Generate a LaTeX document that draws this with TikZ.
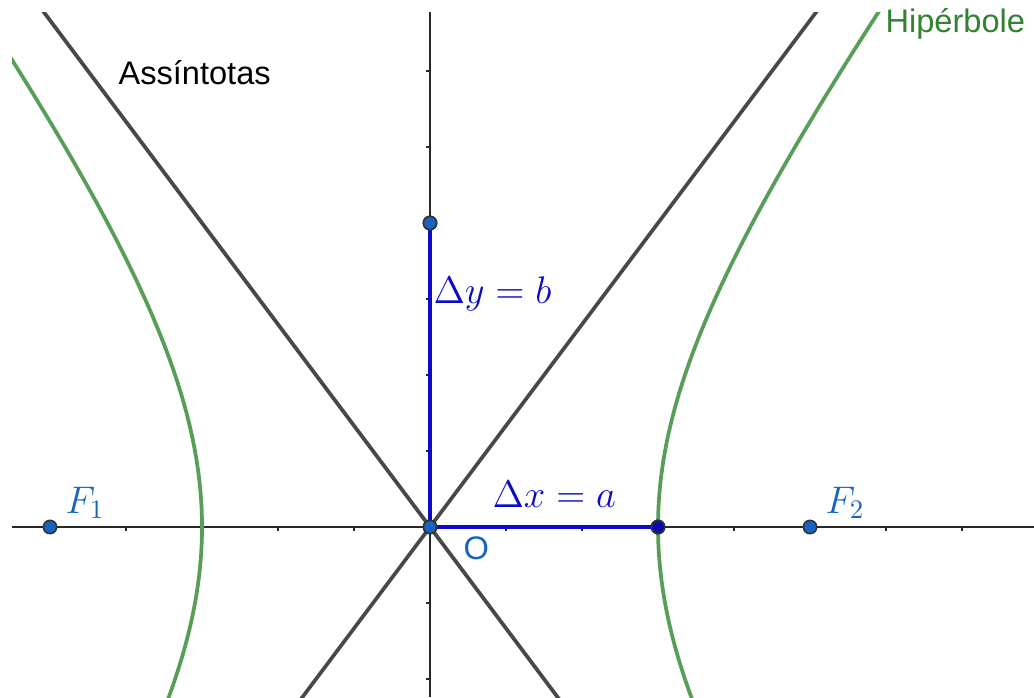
\documentclass[tikz,border=0pt]{standalone}
\usepackage{fontspec}
\setsansfont{Liberation Sans}
\definecolor{ptblue}{RGB}{21,101,192}
\definecolor{segblue}{RGB}{12,12,200}
\definecolor{vtxblue}{RGB}{10,10,170}
\definecolor{hypgreen}{RGB}{88,158,88}
\definecolor{labgreen}{RGB}{50,130,50}
\definecolor{asymgray}{RGB}{72,72,72}
\definecolor{axisgray}{RGB}{40,40,40}
\begin{document}
\begin{tikzpicture}[x=1cm, y=1cm,
    axisline/.style={axisgray, line width=0.9pt},
    asym/.style={asymgray, line width=1.4pt},
    curve/.style={hypgreen, line width=1.4pt},
    segment/.style={segblue, line width=1.4pt},
    pt/.style={circle, draw=black!80, fill=ptblue, line width=0.6pt, inner sep=0pt, minimum size=0.175cm},
    mathlabel/.style={inner sep=0pt, anchor=base west, font=\fontsize{13.7}{16}\selectfont},
    textlabel/.style={inner sep=0pt, anchor=base west, font=\sffamily\fontsize{12.2}{14}\selectfont}]
    \useasboundingbox (-5.658,-2.237) rectangle (7.947,6.934);
    % axes and ticks
    \coordinate (xl) at (-5.5,0);
    \coordinate (xr) at (7.947,0);
    \coordinate (yb) at (0,-2.237);
    \coordinate (yt) at (0,6.776);
    \draw[axisline] (xl) -- (xr);
    \draw[axisline] (yb) -- (yt);
    \foreach \i in {-5,...,-1,1,2,...,7}
      \draw[axisline, line width=0.6pt] (\i,0) -- (\i,-0.05);
    \foreach \j in {-2,-1,1,2,...,6}
      \draw[axisline, line width=0.6pt] (0,\j) -- (-0.05,\j);
    \begin{scope}
      \clip (-5.5,-2.237) rectangle (7.947,6.776);
      % asymptotes
      \coordinate (a1) at (-1.8,-2.4);
      \coordinate (a2) at (5.25,7);
      \coordinate (a3) at (1.8,-2.4);
      \coordinate (a4) at (-5.25,7);
      \draw[asym] (a1) -- (a2);
      \draw[asym] (a3) -- (a4);
      % branches
      \draw[curve] plot[domain=-2.4:6.9, samples=90, smooth] ({3*sqrt(1+(\x/4)^2)}, \x);
      \draw[curve] plot[domain=-2.4:6.9, samples=90, smooth] ({-3*sqrt(1+(\x/4)^2)}, \x);
    \end{scope}
    \node[pt] (O) at (0,0) {};
    \node[pt] (B) at (0,4) {};
    \node[pt, fill=vtxblue] (V) at (3,0) {};
    \node[pt] (F1) at (-5,0) {};
    \node[pt] (F2) at (5,0) {};
    \draw[segment] (O) -- (B);
    \draw[segment] (O) -- (V);
    \node[pt] at (O) {};
    \node[pt] at (B) {};
    \node[pt, fill=vtxblue] at (V) {};
    % labels
    \node[mathlabel, text=ptblue] (lf1) at (-4.803,0.184) {$F_1$};
    \node[mathlabel, text=ptblue] (lf2) at (5.197,0.184) {$F_2$};
    \node[mathlabel, text=segblue] (ldx) at (0.816,0.263) {$\Delta x = a$};
    \node[mathlabel, text=segblue] (ldy) at (0.04,2.947) {$\Delta y = b$};
    \node[textlabel, text=ptblue] (lo) at (0.434,-0.434) {O};
    \node[textlabel] (lasym) at (-4.105,5.816) {Assíntotas};
    \node[textlabel, text=labgreen] (lhyp) at (5.987,6.513) {Hipérbole};
  \end{tikzpicture}
\end{document}
